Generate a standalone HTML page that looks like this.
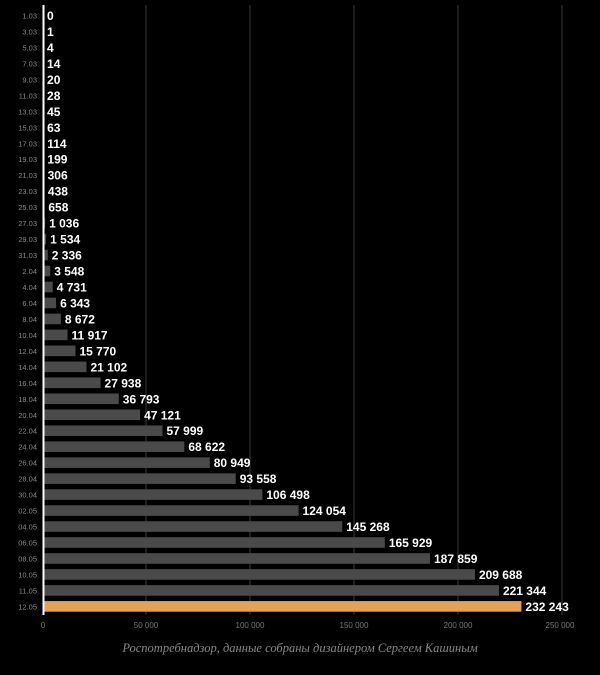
<!DOCTYPE html>
<html><head><meta charset="utf-8"><style>
body{margin:0;background:#000;width:600px;height:670px;overflow:hidden;font-family:"Liberation Sans",sans-serif}
</style></head><body>
<svg width="600" height="670" xmlns="http://www.w3.org/2000/svg">
<rect width="600" height="670" fill="#000"/>
<g stroke="#3a3a3a" stroke-width="1">
<line x1="146" y1="5" x2="146" y2="615"/><line x1="250" y1="5" x2="250" y2="615"/>
<line x1="354" y1="5" x2="354" y2="615"/><line x1="458" y1="5" x2="458" y2="615"/>
<line x1="562" y1="5" x2="562" y2="615"/>
</g>
<g id="bars"></g>
<line x1="43.5" y1="5" x2="43.5" y2="615" stroke="#fff" stroke-width="2"/>
<g fill="#777" font-size="8" text-anchor="middle">
<text x="43" y="628">0</text><text x="146" y="628">50 000</text><text x="250" y="628">100 000</text>
<text x="354" y="628">150 000</text><text x="458" y="628">200 000</text><text x="560" y="628">250 000</text>
</g>
<text x="300" y="652" fill="#888" font-size="12.5" font-style="italic" font-family="Liberation Serif,serif" text-anchor="middle">Роспотребнадзор, данные собраны дизайнером Сергеем Кашиным</text>
</svg>
<script>
const d=[["1.03",0],["3.03",1],["5.03",4],["7.03",14],["9.03",20],["11.03",28],["13.03",45],["15.03",63],["17.03",114],["19.03",199],["21.03",306],["23.03",438],["25.03",658],["27.03",1036],["29.03",1534],["31.03",2336],["2.04",3548],["4.04",4731],["6.04",6343],["8.04",8672],["10.04",11917],["12.04",15770],["14.04",21102],["16.04",27938],["18.04",36793],["20.04",47121],["22.04",57999],["24.04",68622],["26.04",80949],["28.04",93558],["30.04",106498],["02.05",124054],["04.05",145268],["06.05",165929],["08.05",187859],["10.05",209688],["11.05",221344],["12.05",232243]];
let s="";
d.forEach((r,i)=>{const cy=15.5+i*15.97;const w=r[1]*515/250000;const last=i==d.length-1;
s+=`<rect x="43" y="${cy-5.3}" width="${w}" height="10.6" fill="${last?'#e3a255':'#4a4a4a'}"/>`;
s+=`<text x="37" y="${cy+3}" fill="#8a8a8a" font-size="7.5" text-anchor="end">${r[0]}</text>`;
s+=`<text x="${43+w+4}" y="${cy+4.5}" fill="#fff" font-size="12" font-weight="bold">${r[1].toLocaleString('en').replace(/,/g,' ')}</text>`;});
document.getElementById("bars").innerHTML=s;
</script>
</body></html>
